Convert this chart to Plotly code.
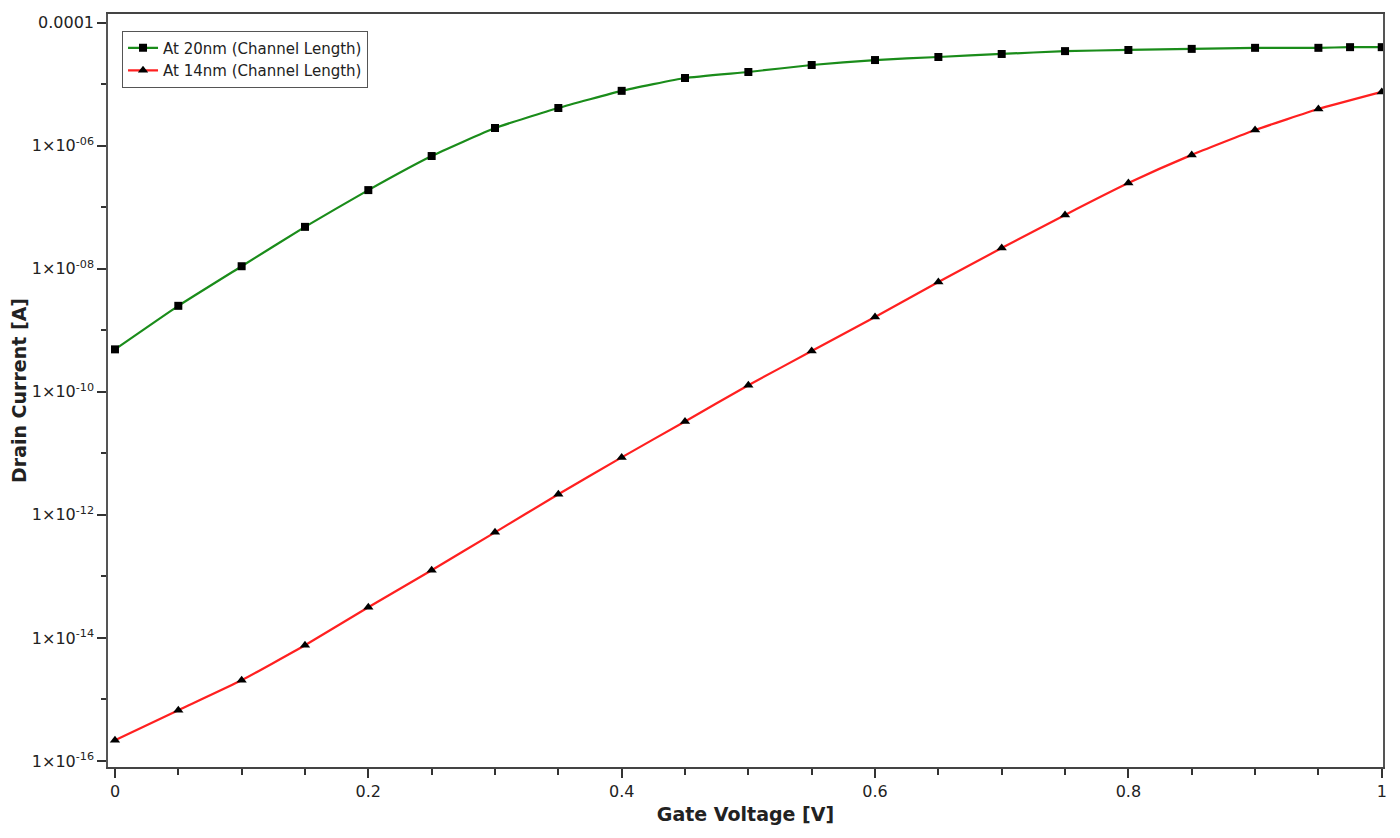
import plotly.graph_objects as go

# Gate voltage (V)
vg_20nm = [0, 0.05, 0.1, 0.15, 0.2, 0.25, 0.3, 0.35, 0.4, 0.45, 0.5, 0.55, 0.6, 0.65,
           0.7, 0.75, 0.8, 0.85, 0.9, 0.95, 0.975, 1.0]
id_20nm = [4.9e-10, 2.5e-9, 1.1e-8, 4.8e-8, 1.9e-7, 6.8e-7, 1.94e-6, 4.1e-6, 7.8e-6,
           1.26e-5, 1.58e-5, 2.05e-5, 2.47e-5, 2.77e-5, 3.1e-5, 3.45e-5, 3.6e-5,
           3.75e-5, 3.9e-5, 3.9e-5, 4.0e-5, 4.0e-5]

vg_14nm = [0, 0.05, 0.1, 0.15, 0.2, 0.25, 0.3, 0.35, 0.4, 0.45, 0.5, 0.55, 0.6, 0.65,
           0.7, 0.75, 0.8, 0.85, 0.9, 0.95, 1.0]
id_14nm = [2.17e-16, 6.7e-16, 2.05e-15, 7.6e-15, 3.15e-14, 1.26e-13, 5.2e-13, 2.16e-12,
           8.6e-12, 3.3e-11, 1.28e-10, 4.6e-10, 1.64e-9, 6.1e-9, 2.17e-8, 7.5e-8,
           2.47e-7, 7.1e-7, 1.8e-6, 3.95e-6, 7.5e-6]

y_tick_vals = [1e-16, 1e-14, 1e-12, 1e-10, 1e-8, 1e-6, 1e-4]
y_tick_text = ["1×10<sup>-16</sup>", "1×10<sup>-14</sup>", "1×10<sup>-12</sup>",
               "1×10<sup>-10</sup>", "1×10<sup>-08</sup>", "1×10<sup>-06</sup>", "0.0001"]
y_minor_vals = [1e-15, 1e-13, 1e-11, 1e-9, 1e-7, 1e-5]

x_tick_vals = [0, 0.2, 0.4, 0.6, 0.8, 1]
x_tick_text = ["0", "0.2", "0.4", "0.6", "0.8", "1"]
x_minor_vals = [0.05, 0.1, 0.15, 0.25, 0.3, 0.35, 0.45, 0.5, 0.55,
                0.65, 0.7, 0.75, 0.85, 0.9, 0.95]

fig = go.Figure()
fig.add_trace(go.Scatter(
    x=vg_20nm, y=id_20nm, mode="lines+markers",
    name="At 20nm (Channel Length)",
    line=dict(color="#1a8c1a", width=2.2, shape="spline", smoothing=0.4),
    marker=dict(symbol="square", size=8, color="black"),
))
fig.add_trace(go.Scatter(
    x=vg_14nm, y=id_14nm, mode="lines+markers",
    name="At 14nm (Channel Length)",
    line=dict(color="#ff2020", width=2.2, shape="spline", smoothing=0.4),
    marker=dict(symbol="triangle-up", size=9, color="black"),
))

fig.update_layout(
    width=1400, height=838,
    margin=dict(l=100, r=25, t=6, b=79),
    paper_bgcolor="white", plot_bgcolor="white",
    font=dict(family="DejaVu Sans", color="#222222"),
    showlegend=True,
    legend=dict(
        x=0.011, y=0.978, xanchor="left", yanchor="top",
        bgcolor="white", bordercolor="#555555", borderwidth=1,
        font=dict(family="DejaVu Sans", size=15, color="#222222"),
        tracegroupgap=0, itemwidth=30,
    ),
    xaxis=dict(
        range=[-0.0055, 1.001], automargin=False,
        tickmode="array", tickvals=x_tick_vals, ticktext=x_tick_text,
        ticks="outside", ticklen=9, tickwidth=1.5, tickcolor="#333333",
        tickfont=dict(family="DejaVu Sans", size=16, color="#222222"),
        minor=dict(tickmode="array", tickvals=x_minor_vals,
                   ticks="outside", ticklen=6, tickwidth=1.5, tickcolor="#333333"),
        showline=True, linecolor="#444444", linewidth=1.5, mirror=True,
        showgrid=False, zeroline=False,
        title=dict(text="<b>Gate Voltage [V]</b>",
                   font=dict(family="DejaVu Sans", size=19, color="#222222"),
                   standoff=8),
    ),
    yaxis=dict(
        type="log", range=[-16.098, -3.859], automargin=False,
        tickmode="array", tickvals=y_tick_vals, ticktext=y_tick_text,
        ticks="outside", ticklen=9, tickwidth=1.5, tickcolor="#333333",
        tickfont=dict(family="DejaVu Sans", size=16, color="#222222"),
        minor=dict(tickmode="array", tickvals=y_minor_vals,
                   ticks="outside", ticklen=5, tickwidth=1.5, tickcolor="#333333"),
        showline=True, linecolor="#555555", linewidth=1.5, mirror=True,
        showgrid=False, zeroline=False,
        title=dict(text="<b>Drain Current [A]</b>",
                   font=dict(family="DejaVu Sans", size=19, color="#222222"),
                   standoff=4),
    ),
)

fig.write_html("out.html")
